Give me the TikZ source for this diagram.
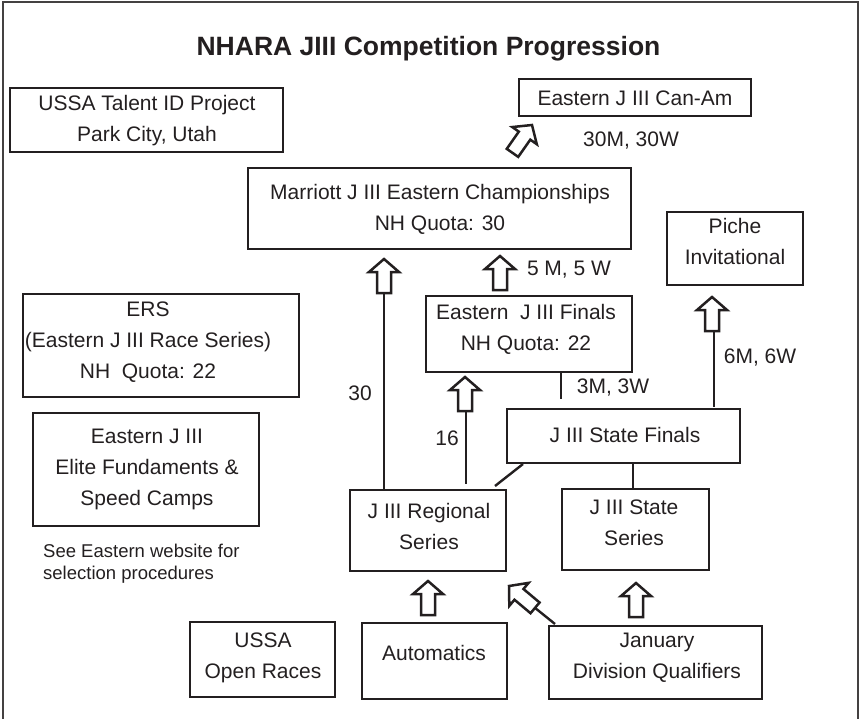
\documentclass[tikz,border=0pt]{standalone}
\usepackage{fontspec}
\setmainfont{Liberation Sans}
\definecolor{ink}{HTML}{231F20}
\newcommand{\hollowup}[2]{\draw[harrow, shift={(#1)}, rotate=#2] (0,0) -- (15,13) -- (7,13) -- (7,34) -- (-7,34) -- (-7,13) -- (-15,13) -- cycle;}
\begin{document}
\begin{tikzpicture}[x=1pt,y=-1pt,
  box/.style 2 args={draw=ink, line width=2.4pt, inner sep=0pt, minimum width=#1, minimum height=#2},
  txt/.style={text=ink, font=\fontsize{21}{31}\selectfont, align=center, inner sep=0pt},
  lab/.style={text=ink, font=\fontsize{21}{31}\selectfont, inner sep=0pt, anchor=base},
  ttl/.style={text=ink, font=\bfseries\fontsize{26.5}{30}\selectfont, inner sep=0pt, anchor=base},
  note/.style={text=ink, font=\fontsize{18.5}{22}\selectfont, align=left, inner sep=0pt, anchor=west},
  conn/.style={draw=ink, line width=2.4pt},
  harrow/.style={draw=ink, fill=white, line width=2.5pt, line join=miter},
  frame/.style={draw=ink!85, line width=2pt}]
\useasboundingbox (0,0) rectangle (859,718);
\draw[frame] (3,722) -- (3,2) -- (858,2) -- (858,722);

\node[ttl] (title) at (428.5,55) {NHARA JIII Competition Progression};

% boxes
\node[box={273pt}{64pt}] (talent) at (146.5,120) {};
\node[txt] (talentT) at (147,120) {\strut USSA Talent ID Project\\\strut Park City, Utah};

\node[box={232pt}{37pt}] (canam) at (635,97.5) {};
\node[txt] (canamT) at (635,99) {\strut Eastern J III Can-Am};

\node[box={383pt}{81pt}] (marriott) at (439.5,208.5) {};
\node[txt] (marriottT) at (440,208.7) {\strut Marriott J III Eastern Championships\\\strut NH Quota: 30};

\node[box={136pt}{73pt}] (piche) at (735,248.5) {};
\node[txt] (picheT) at (735,242.7) {\strut Piche\\\strut Invitational};

\node[box={206pt}{76pt}] (finals) at (529,334) {};
\node[txt] (finalsT) at (526,328.7) {\strut Eastern\ \ J III Finals\\\strut NH Quota: 22};

\node[box={276pt}{103pt}] (ers) at (161,345.5) {};
\node[txt] (ersT) at (148,341.2) {\strut ERS\\\strut (Eastern J III Race Series)\\\strut NH\ \ Quota: 22};

\node[box={226pt}{113pt}] (elite) at (146,469.5) {};
\node[txt] (eliteT) at (147,468.2) {\strut Eastern J III\\\strut Elite Fundaments \&\\\strut Speed Camps};

\node[note] (noteT) at (43,564.2) {\strut See Eastern website for\\\strut selection procedures};

\node[box={233pt}{54pt}] (statefinals) at (623.5,436) {};
\node[txt] (statefinalsT) at (625,436.2) {\strut J III State Finals};

\node[box={156pt}{81pt}] (regional) at (428,530.5) {};
\node[txt] (regionalT) at (429,527.3) {\strut J III Regional\\\strut Series};

\node[box={147pt}{81pt}] (stateseries) at (635.5,529.5) {};
\node[txt] (stateseriesT) at (634,523.8) {\strut J III State\\\strut Series};

\node[box={145pt}{75pt}] (ussaopen) at (262.5,659.5) {};
\node[txt] (ussaopenT) at (263,656.3) {\strut USSA\\\strut Open Races};

\node[box={145pt}{76pt}] (automatics) at (434.5,661) {};
\node[txt] (automaticsT) at (434,654.3) {\strut Automatics};

\node[box={213pt}{73pt}] (january) at (655.5,662.5) {};
\node[txt] (januaryT) at (657,656.3) {\strut January\\\strut Division Qualifiers};

% labels
\node[lab] (l30m) at (631,146.5) {30M, 30W};
\node[lab] (l5m) at (569,275.5) {5 M, 5 W};
\node[lab] (l30) at (360,400.5) {30};
\node[lab] (l16) at (447,445.5) {16};
\node[lab] (l3m) at (613,393.5) {3M, 3W};
\node[lab] (l6m) at (760,363.5) {6M, 6W};

% arrow coordinates
\coordinate (t1) at (532,125);
\coordinate (t2) at (384,259);
\coordinate (b2) at (384,293);
\coordinate (t3) at (500,256);
\coordinate (t4) at (465,377);
\coordinate (b4) at (466,411);
\coordinate (e4) at (466,484);
\coordinate (t5) at (712,297);
\coordinate (b5) at (714,331);
\coordinate (t6) at (428,581);
\coordinate (t7) at (636,583);
\coordinate (t8) at (509,586);
\coordinate (b8) at (535.8,608.5);
\coordinate (e8) at (555,624);
\coordinate (e3m) at (561,399);
\coordinate (e6m) at (714,407);
\coordinate (d1) at (523,464);
\coordinate (d2) at (495,486);

% connectors
\draw[conn] (b2) -- (b2 |- regional.north);
\draw[conn] (b4) -- (e4);
\draw[conn] (finals.south -| e3m) -- (e3m);
\draw[conn] (b5) -- (e6m);
\draw[conn] (d1) -- (d2);
\draw[conn] (statefinals.south -| 633,0) -- (stateseries.north -| 633,0);
\draw[conn] (b8) -- (e8);

% hollow block arrows
\hollowup{t1}{-35}
\hollowup{t2}{0}
\hollowup{t3}{0}
\hollowup{t4}{0}
\hollowup{t5}{0}
\hollowup{t6}{0}
\hollowup{t7}{0}
\hollowup{t8}{50}
\end{tikzpicture}
\end{document}
